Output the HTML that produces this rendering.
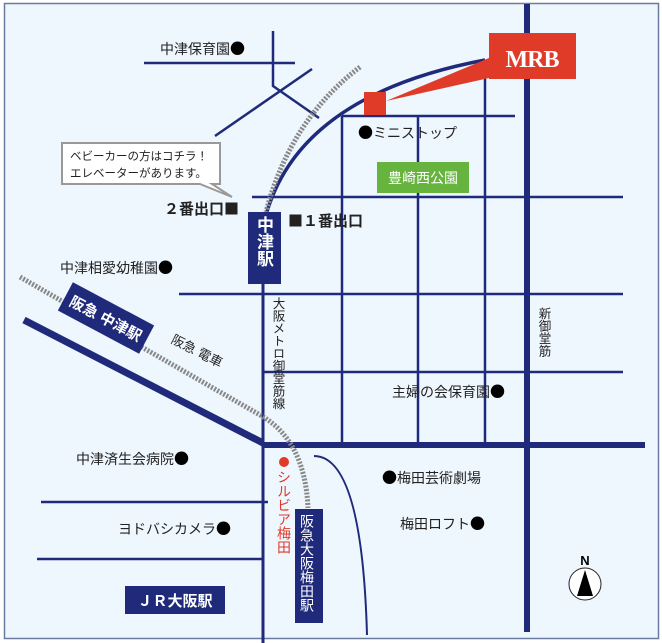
<!DOCTYPE html>
<html><head><meta charset="utf-8"><style>
html,body{margin:0;padding:0;background:#fff;}
#w{position:relative;width:662px;height:643px;overflow:hidden;font-family:"Liberation Sans","Noto Sans CJK JP",sans-serif;}
svg{position:absolute;left:0;top:0;}
.t{position:absolute;font-size:14px;color:#222;white-space:nowrap;line-height:1;}
.v{position:absolute;writing-mode:vertical-rl;white-space:nowrap;line-height:1;}
.d{font-family:"Noto Sans CJK JP",sans-serif;font-size:15px;color:#000;}
</style></head><body><div id="w">
<svg width="662" height="643" viewBox="0 0 662 643">
<rect x="4.5" y="3.5" width="654" height="635" fill="#eef6fe" stroke="#6a7aa0" stroke-width="1.5"/>
<g stroke="#1f2a7a" fill="none">
<line x1="144" y1="63" x2="295" y2="63" stroke-width="2.5"/>
<polyline points="273,31 273,86 319,118" stroke-width="2.5"/>
<line x1="215" y1="136" x2="312" y2="69" stroke-width="2.5"/>
<line x1="342" y1="116" x2="515" y2="116" stroke-width="2.5"/>
<line x1="342" y1="116" x2="342" y2="445" stroke-width="2.5"/>
<line x1="418" y1="116" x2="418" y2="445" stroke-width="2.5"/>
<line x1="485" y1="62" x2="485" y2="445" stroke-width="2.5"/>
<line x1="252" y1="197" x2="623" y2="197" stroke-width="2.5"/>
<line x1="179" y1="294" x2="623" y2="294" stroke-width="2.5"/>
<line x1="263" y1="372" x2="623" y2="372" stroke-width="2.5"/>
<line x1="41" y1="502" x2="268" y2="502" stroke-width="2.5"/>
<line x1="37" y1="559" x2="263" y2="559" stroke-width="2.5"/>
<line x1="263" y1="270" x2="263" y2="643" stroke-width="3"/>
<line x1="263" y1="445" x2="645" y2="445" stroke-width="6"/>
<line x1="527" y1="4" x2="527" y2="632" stroke-width="6"/>
<line x1="24" y1="320" x2="263" y2="443" stroke-width="7"/>
<path d="M266,215 Q300,95 485,60" stroke-width="3.5"/>
<path d="M314,456 Q362,456 367,635" stroke-width="2"/>
</g>
<g stroke="#888" stroke-width="5" stroke-dasharray="2,1.5" fill="none">
<path d="M360,67 Q290,120 266,212"/>
<path d="M20,277 L260,415 Q305,440 308,508"/>
</g>
<rect x="489" y="33" width="87" height="46" fill="#e03a28"/>
<text x="532" y="67" fill="#fff" font-family="Liberation Serif,serif" font-weight="bold" font-size="24" text-anchor="middle" letter-spacing="-1">MRB</text>
<rect x="364" y="92" width="22" height="23" fill="#e03a28"/>
<polygon points="386,101 489,58 489,78" fill="#e03a28"/>
<rect x="377" y="162" width="92" height="31" fill="#66b33e"/>
<text x="423" y="183" fill="#fff" font-size="14" text-anchor="middle">豊崎西公園</text>
<path d="M62,143 H220 V184 H212 L232,197 L200,184 H62 Z" fill="#fff" stroke="#999" stroke-width="2"/>
<text x="70" y="160" font-size="11.5" fill="#222">ベビーカーの方はコチラ！</text>
<text x="70" y="177" font-size="11.5" fill="#222">エレベーターがあります。</text>
<rect x="248" y="212" width="33" height="72" fill="#1f2a7a"/>
<g transform="translate(106,318) rotate(28)">
<rect x="-46" y="-16" width="92" height="32" fill="#1f2a7a"/>
<text x="0" y="6" fill="#fff" font-size="15" font-weight="bold" text-anchor="middle">阪急 中津駅</text>
</g>
<text x="195" y="355" font-size="13" fill="#222" transform="rotate(27 195 355)" text-anchor="middle">阪急 電車</text>
<rect x="295" y="509" width="28" height="114" fill="#1f2a7a"/>
<rect x="125" y="586" width="100" height="28" fill="#1f2a7a"/>
<text x="175" y="606" fill="#fff" font-size="15" font-weight="bold" text-anchor="middle">ＪＲ大阪駅</text>
<text x="585" y="565" font-size="13" font-weight="bold" text-anchor="middle" fill="#000">N</text>
<circle cx="585" cy="584" r="16" fill="#fff" stroke="#222" stroke-width="1"/>
<polygon points="585,570 577,596 593,596" fill="#000"/>
<circle cx="284" cy="462" r="5" fill="#e03a28"/>
</svg>
<div class="v" style="left:255px;top:216px;font-size:17px;font-weight:bold;color:#fff;">中津駅</div>
<div class="v" style="left:300px;top:514px;font-size:14px;color:#fff;">阪急大阪梅田駅</div>
<div class="v" style="left:271px;top:297px;font-size:12.5px;color:#222;">大阪メトロ御堂筋線</div>
<div class="v" style="left:537px;top:307px;font-size:12.5px;color:#222;">新御堂筋</div>
<div class="v" style="left:277px;top:470px;font-size:14px;color:#e03a28;">シルビア梅田</div>
<div class="t" style="left:160px;top:41px;">中津保育園<span class="d">●</span></div>
<div class="t" style="left:358px;top:125px;"><span class="d">●</span>ミニストップ</div>
<div class="t" style="left:164px;top:201px;font-weight:bold;font-size:15px;">２番出口<span style="font-family:'Noto Sans CJK JP'">■</span></div>
<div class="t" style="left:288px;top:213px;font-weight:bold;font-size:15px;"><span style="font-family:'Noto Sans CJK JP'">■</span>１番出口</div>
<div class="t" style="left:60px;top:260px;">中津相愛幼稚園<span class="d">●</span></div>
<div class="t" style="left:392px;top:384px;">主婦の会保育園<span class="d">●</span></div>
<div class="t" style="left:76px;top:451px;">中津済生会病院<span class="d">●</span></div>
<div class="t" style="left:382px;top:470px;"><span class="d">●</span>梅田芸術劇場</div>
<div class="t" style="left:400px;top:516px;">梅田ロフト<span class="d">●</span></div>
<div class="t" style="left:118px;top:521px;">ヨドバシカメラ<span class="d">●</span></div>
</div></body></html>
